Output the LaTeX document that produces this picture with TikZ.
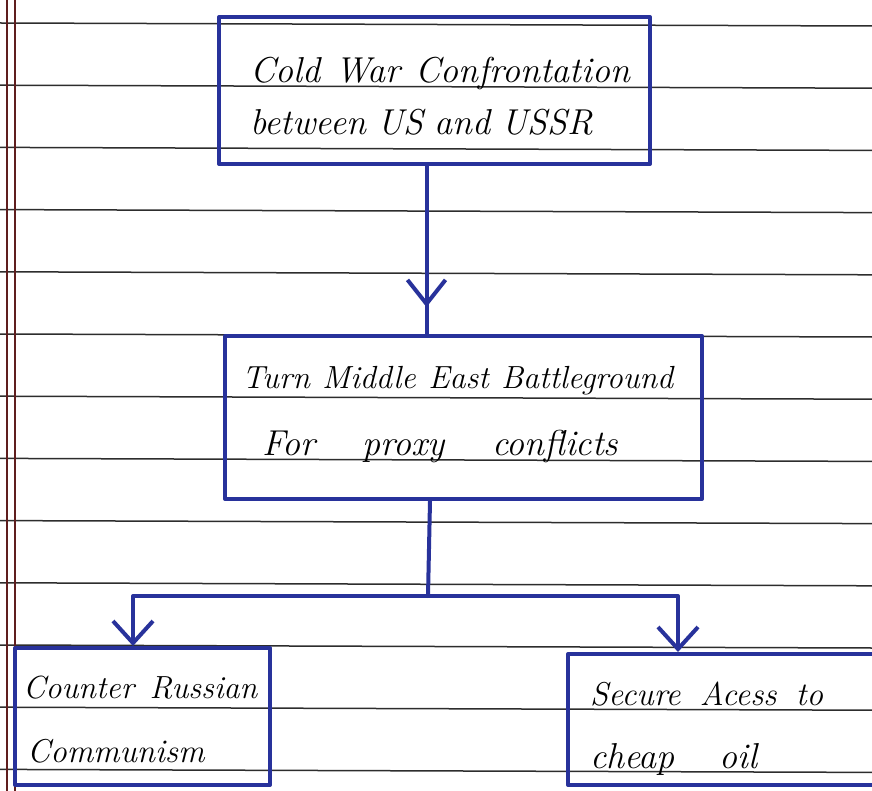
\documentclass[tikz,border=0pt]{standalone}
\usetikzlibrary{arrows.meta,decorations.markings}
\definecolor{ink}{RGB}{40,50,155}
\definecolor{ruled}{RGB}{45,45,45}
\definecolor{marginred}{RGB}{95,30,30}
\begin{document}
\begin{tikzpicture}[x=1pt,y=-1pt,
  box/.style={draw=ink, line width=4pt, line join=round, inner sep=0pt, anchor=north west},
  txt/.style={inner sep=0pt, anchor=base west, font=\fontsize{36}{40}\selectfont\itshape},
  smalltxt/.style={txt, font=\fontsize{32}{40}\selectfont\itshape},
  link/.style={draw=ink, line width=4pt, line cap=round, line join=round},
  barb/.style={-{Straight Barb[length=22pt,width=40pt,line width=4pt]}},
  midbarb/.style={decoration={markings, mark=at position #1 with {\arrow{Straight Barb[length=24pt,width=38pt,line width=4pt]}}}, postaction=decorate}
]
\useasboundingbox (0,0) rectangle (872,791);
\clip (0,0) rectangle (872,791);
\fill[white] (0,0) rectangle (872,791);
% ruled paper
\foreach \k in {0,...,12}
  \draw[ruled, line width=1.5pt] (0,{23+62.2*\k}) -- (872,{26+62.2*\k});
\draw[marginred, line width=1.4pt] (7,0) -- (7,791);
\draw[marginred, line width=1.4pt] (15,0) -- (15,791);
% boxes
\node[box, minimum width=431pt, minimum height=147pt] (b1) at (217,15) {};
\node[box, minimum width=477pt, minimum height=163pt] (b2) at (223,334) {};
\node[box, minimum width=255pt, minimum height=137pt] (b3) at (13,646) {};
\node[box, minimum width=340pt, minimum height=131pt] (b4) at (566,652) {};
% texts
\node[txt] (t1a) at (250,83)  {\makebox[380pt][s]{Cold War Confrontation}};
\node[txt] (t1b) at (250,135) {\makebox[343pt][s]{between US and USSR}};
\node[smalltxt] (t2a) at (242,388) {\makebox[431pt][s]{Turn Middle East Battleground}};
\node[txt] (t2b) at (262,455) {\makebox[356pt][s]{For proxy conflicts}};
\node[smalltxt] (t3a) at (23,698)  {\makebox[234pt][s]{Counter Russian}};
\node[smalltxt, font=\fontsize{33}{40}\selectfont\itshape] (t3b) at (27,762)  {Communism};
\node[smalltxt, font=\fontsize{33}{40}\selectfont\itshape] (t4a) at (590,705) {\makebox[233pt][s]{Secure Acess to}};
\node[txt] (t4b) at (590,768) {\makebox[167pt][s]{cheap oil}};
% connectors
\draw[link, midbarb=0.84] ([xshift=-8pt]b1.south) -- ([xshift=-8pt]b1.south |- b2.north);
\coordinate (j) at (428,596);
\draw[link] ([xshift=-33.5pt]b2.south) -- (j);
\draw[link, barb] (j) -| ([xshift=120pt]b3.north west);
\draw[link, barb] (j) -| ([xshift=112pt]b4.north west);
\end{tikzpicture}
\end{document}
